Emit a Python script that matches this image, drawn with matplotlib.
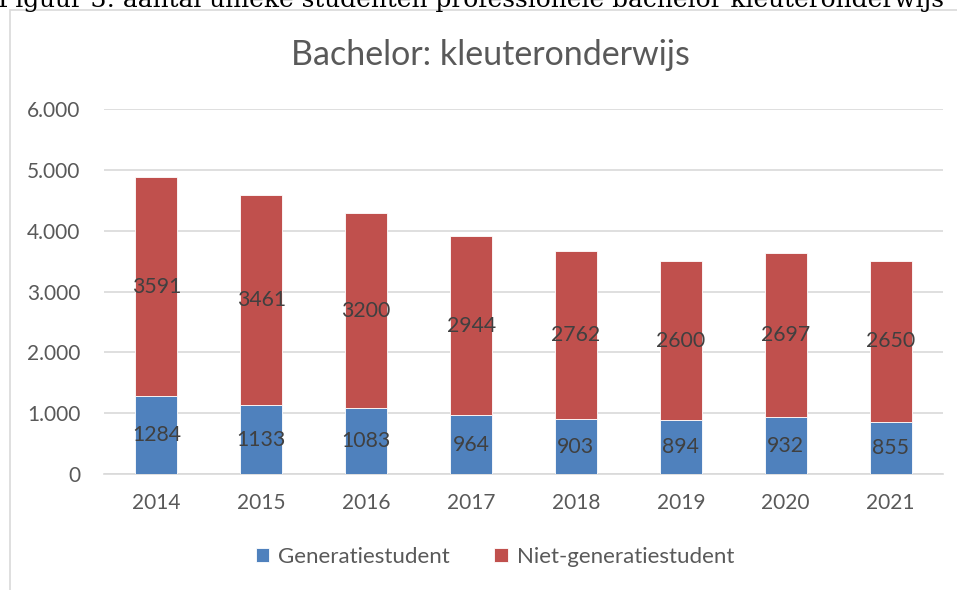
import matplotlib
matplotlib.use("Agg")
import matplotlib.pyplot as plt
from matplotlib.patches import Rectangle
from matplotlib.ticker import FuncFormatter

years = ["2014", "2015", "2016", "2017", "2018", "2019", "2020", "2021"]
generatie = [1284, 1133, 1083, 964, 903, 894, 932, 855]
niet_generatie = [3591, 3461, 3200, 2944, 2762, 2600, 2697, 2650]
title = "Bachelor: kleuteronderwijs"
caption = "Figuur 3: aantal unieke studenten professionele bachelor kleuteronderwijs"
series_names = ["Generatiestudent", "Niet-generatiestudent"]

W, H = 957, 590
fig = plt.figure(figsize=(W / 100, H / 100), dpi=100)
plt.rcParams['font.family'] = ['Lato', 'DejaVu Sans']

txt = "#595959"
blue = "#4F81BD"
red = "#C0504D"

# chart frame
fig.patches.append(Rectangle((10 / W, -0.1), 2, 1 - 10 / H + 0.1, transform=fig.transFigure,
                             fill=False, edgecolor="#D9D9D9", linewidth=1.2))

# caption at top (cut off by the page edge, as in the reference)
fig.text(-2 / W, 1 - 7 / H, caption, family="DejaVu Serif", fontsize=17.9, color="black",
         ha="left", va="baseline")

ax = fig.add_axes([104 / W, 1 - 474 / H, (943 - 104) / W, (474 - 109) / H])
x = list(range(len(years)))
b1 = ax.bar(x, generatie, width=0.4, color=blue, edgecolor="white", linewidth=0.6,
            label=series_names[0], zorder=3)
b2 = ax.bar(x, niet_generatie, width=0.4, bottom=generatie, color=red, edgecolor="white",
            linewidth=0.6, label=series_names[1], zorder=3)
ax.bar_label(b1, labels=[str(v) for v in generatie], label_type="center", fontsize=15.3, color="#404040")
ax.bar_label(b2, labels=[str(v) for v in niet_generatie], label_type="center", fontsize=15.3, color="#404040")

ax.set_xlim(-0.5, len(years) - 0.5)
ax.set_ylim(0, 6000)
ax.set_yticks(range(0, 6001, 1000))
ax.yaxis.set_major_formatter(FuncFormatter(lambda v, p: f"{int(v):,}".replace(",", ".")))
ax.set_xticks(x)
ax.set_xticklabels(years)
ax.grid(axis="y", color="#D9D9D9", linewidth=1.2, zorder=0)
for s in ["top", "right", "left"]:
    ax.spines[s].set_visible(False)
ax.spines["bottom"].set_color("#D9D9D9")
ax.spines["bottom"].set_linewidth(1.2)
ax.tick_params(axis="both", length=0, labelsize=15, labelcolor=txt)
ax.tick_params(axis="y", pad=17)
ax.tick_params(axis="x", pad=14)

fig.text(490 / W, 1 - 55 / H, title, ha="center", va="center", fontsize=24.5, color=txt)

fig.legend(handles=[b1, b2], labels=series_names, loc="center", bbox_to_anchor=(495 / W, 1 - 557 / H),
           ncol=2, frameon=False, fontsize=16, labelcolor=txt, handlelength=0.6, handleheight=0.6,
           columnspacing=2.0, handletextpad=0.4)

fig.savefig("out.png", dpi=100)
